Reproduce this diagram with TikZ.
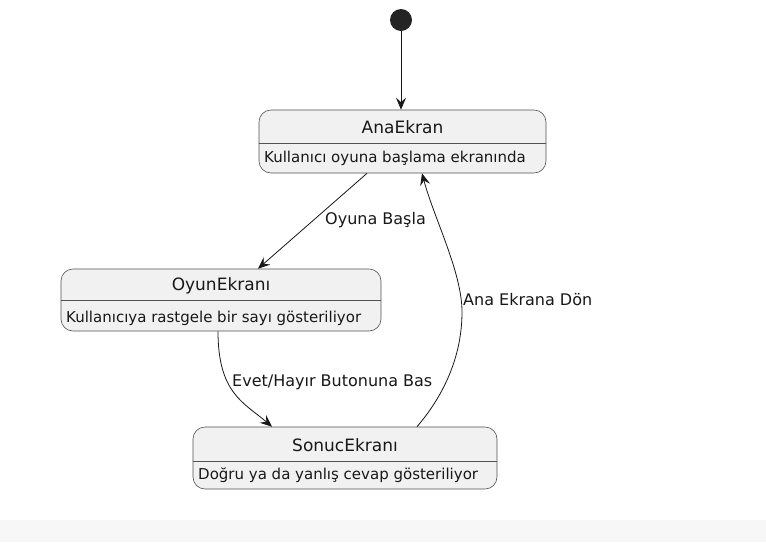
\documentclass[tikz,border=0pt]{standalone}
\usepackage{fontspec}
\setmainfont{DejaVu Sans}
\usetikzlibrary{arrows.meta,positioning}

\definecolor{statefill}{HTML}{F1F1F1}
\definecolor{lineclr}{HTML}{181818}
\definecolor{bandgray}{HTML}{F7F7F7}

\tikzset{
  statebox/.style={draw=lineclr!75, fill=statefill, rounded corners=12pt, line width=0.6pt, inner sep=0pt},
  divider/.style={draw=lineclr!75, line width=0.6pt},
  titletext/.style={font=\fontsize{17}{20}\selectfont, text=lineclr, inner sep=0pt},
  desctext/.style={font=\fontsize{15}{18}\selectfont, text=lineclr, anchor=west, inner sep=0pt},
  lbltext/.style={font=\fontsize{16}{19}\selectfont, text=lineclr, anchor=west, inner sep=0pt},
  trans/.style={draw=lineclr, line width=0.8pt, -{Stealth[length=12pt,width=10pt,inset=4.5pt]}}
}

\begin{document}
\begin{tikzpicture}[x=1pt,y=-1pt]
    % Page
    \useasboundingbox (0,0) rectangle (766,542);
    \fill[white] (0,0) rectangle (766,520);
    \fill[bandgray] (0,520) rectangle (766,542);

    % Start
    \node[circle, fill=lineclr!95, minimum size=22pt, inner sep=0pt] (start) at (401,20) {};

    % States
    \node[statebox, minimum width=287pt, minimum height=63pt] (ana) at (402.5,141.5) {};
    \draw[divider] (ana.west |- 0,143) -- (ana.east |- 0,143);
    \node[titletext] (anatitle) at (402.5,127) {AnaEkran};
    \node[desctext] (anadesc) at (264,158) {Kullanıcı oyuna başlama ekranında};

    \node[statebox, minimum width=320pt, minimum height=62pt] (oyun) at (221,300) {};
    \draw[divider] (oyun.west |- 0,300.5) -- (oyun.east |- 0,300.5);
    \node[titletext] (oyuntitle) at (221,286) {OyunEkranı};
    \node[desctext] (oyundesc) at (66,318) {Kullanıcıya rastgele bir sayı gösteriliyor};

    \node[statebox, minimum width=304pt, minimum height=62pt] (sonuc) at (345,458) {};
    \draw[divider] (sonuc.west |- 0,461) -- (sonuc.east |- 0,461);
    \node[titletext] (sonuctitle) at (345,445) {SonucEkranı};
    \node[desctext] (sonucdesc) at (198,475) {Doğru ya da yanlış cevap gösteriliyor};

    % Transitions
    \draw[trans] (start) -- (start |- ana.north);
    \draw[trans] ([xshift=-35.5pt]ana.south) -- ([xshift=37pt]oyun.north);
    \draw[trans] ([xshift=-3pt]oyun.south) .. controls +(0,62) and +(-28,-24) .. ([xshift=-73pt]sonuc.north);
    \coordinate (bend) at (462,312);
    \draw[trans] ([xshift=72pt]sonuc.north) .. controls +(30,-35) and +(0,40) .. (bend)
        .. controls +(0,-40) and +(12,45) .. ([xshift=19.5pt]ana.south);

    % Labels
    \node[lbltext] (lblstart) at (325,220) {Oyuna Başla};
    \node[lbltext] (lblanswer) at (232,382) {Evet/Hayır Butonuna Bas};
    \node[lbltext] (lblback) at (463,300) {Ana Ekrana Dön};
\end{tikzpicture}
\end{document}
